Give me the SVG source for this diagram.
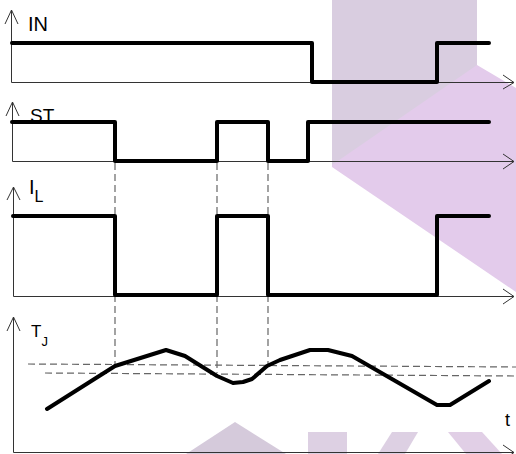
<svg xmlns="http://www.w3.org/2000/svg" width="516" height="454" viewBox="0 0 516 454">
<style>
.axis{fill:none;stroke:#333;stroke-width:1}
.sig{fill:none;stroke:#000;stroke-width:4;stroke-linejoin:round;stroke-linecap:round}
.dash{fill:none;stroke:#666;stroke-width:1.2;stroke-dasharray:7 4}
.lbl{font-family:"Liberation Sans",Arial,sans-serif;fill:#000}
</style>
<rect width="516" height="454" fill="#fff"/>
<g id="watermark">
<rect x="332" y="0" width="145" height="167" fill="#d9cde0"/>
<polygon points="332,165 477,65 516,88 516,292 332,167" fill="#e3cbeb"/>
<polygon points="186,454 235,422 286,454" fill="#d5cadb"/>
<rect x="308" y="432" width="39" height="22" fill="#ddd0e3"/>
<polygon points="392,432 418,432 405,454 378,454" fill="#ddd0e3"/>
<polygon points="448,432 482,432 502,454 466,454" fill="#e1cfe6"/>
</g>
<g id="connectors">
<path class="dash" d="M115,163 V366 M217,163 V373 M268,163 V366 M28,364 L516,367 M45,373 L516,376"/>
</g>
<g id="axis-in">
<path class="axis" d="M11.5,10 V82.5 H514 M5,24 L11.5,10 L18,24 M503,75 L514,82.5 L503,89"/>
<text class="lbl" x="28" y="31" font-size="20">IN</text>
<path class="sig" d="M12,43 H312 V82 H437 V43 H489"/>
</g>
<g id="axis-st">
<path class="axis" d="M12.5,102 V161.5 H514 M6,116 L12.5,102 L19,116 M503,154 L514,161.5 L503,169"/>
<text class="lbl" x="30" y="122" font-size="19">ST</text>
<path class="sig" d="M12,122 H115 V161 H217 V122 H268 V161 H308 V122 H489"/>
</g>
<g id="axis-il">
<path class="axis" d="M13.5,187 V296.5 H514 M7,200 L13.5,187 L20,200 M503,289 L514,296.5 L503,304"/>
<text class="lbl" x="29" y="194" font-size="20">I<tspan font-size="16" dy="8">L</tspan></text>
<path class="sig" d="M13,216 H115 V295 H217 V216 H268 V295 H437 V216 H489"/>
</g>
<g id="axis-tj">
<path class="axis" d="M13.5,317 V452.5 H514 M7,331 L13.5,317 L20,331 M503,445 L514,452.5 L503,460"/>
<text class="lbl" x="31" y="337" font-size="17">T<tspan font-size="13" dy="9">J</tspan></text>
<text class="lbl" x="505" y="426" font-size="18">t</text>
<path class="sig" d="M47,409 L115,366 L166,350 L185,356 L217,376 L233,383 L243,382 L252,379 L267,366 L280,360 L310,350 L328,350 L352,356 L437,405 L450,405 L489,381"/>
</g>
</svg>
